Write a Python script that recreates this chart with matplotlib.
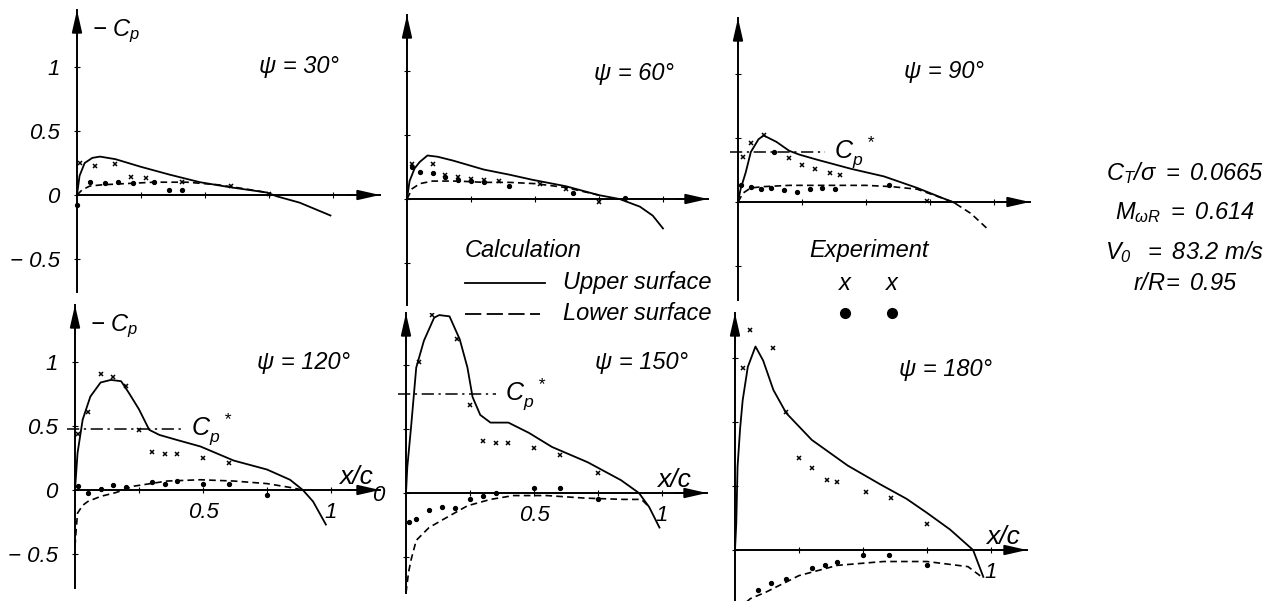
import matplotlib
matplotlib.use('Agg')
import matplotlib.pyplot as plt
from matplotlib.lines import Line2D

plt.rcParams['font.family'] = ['Liberation Sans', 'DejaVu Sans']
plt.rcParams['font.style'] = 'italic'
plt.rcParams['mathtext.fontset'] = 'custom'
plt.rcParams['mathtext.rm'] = 'Liberation Sans:italic'
plt.rcParams['mathtext.it'] = 'Liberation Sans:italic'
plt.rcParams['mathtext.sf'] = 'Liberation Sans:italic'

# --- data: -Cp vs x/c ---
psi_labels = ['ψ = 30°', 'ψ = 60°', 'ψ = 90°', 'ψ = 120°', 'ψ = 150°', 'ψ = 180°']

# psi = 30
up30_x = [0, 0.01, 0.03, 0.06, 0.09, 0.15, 0.25, 0.36, 0.48, 0.60, 0.74, 0.78, 0.87, 0.93, 0.99]
up30_cp = [0, 0.15, 0.25, 0.29, 0.30, 0.28, 0.22, 0.16, 0.10, 0.06, 0.02, -0.01, -0.06, -0.11, -0.16]
lo30_x = [0, 0.02, 0.05, 0.10, 0.20, 0.30, 0.43, 0.55, 0.65, 0.74]
lo30_cp = [0, 0.04, 0.07, 0.08, 0.09, 0.10, 0.10, 0.08, 0.05, 0.02]
exu30_x = [0.01, 0.07, 0.15, 0.21, 0.27, 0.41, 0.60, 0.75]
exu30_cp = [0.25, 0.23, 0.24, 0.14, 0.13, 0.10, 0.07, 0.01]
exl30_x = [0.0, 0.05, 0.11, 0.16, 0.22, 0.30, 0.36, 0.41]
exl30_cp = [-0.08, 0.10, 0.09, 0.10, 0.09, 0.10, 0.04, 0.04]

# psi = 60
up60_x = [0, 0.01, 0.03, 0.05, 0.08, 0.12, 0.18, 0.30, 0.40, 0.49, 0.62, 0.75, 0.83, 0.91, 0.96, 1.0]
up60_cp = [0, 0.14, 0.24, 0.29, 0.34, 0.33, 0.30, 0.23, 0.19, 0.15, 0.10, 0.03, 0.0, -0.06, -0.13, -0.23]
lo60_x = [0, 0.02, 0.05, 0.10, 0.20, 0.30, 0.40, 0.50, 0.62, 0.75]
lo60_cp = [0, 0.08, 0.12, 0.14, 0.14, 0.13, 0.13, 0.12, 0.09, 0.03]
exu60_x = [0.02, 0.10, 0.15, 0.20, 0.25, 0.30, 0.36, 0.52, 0.62, 0.75]
exu60_cp = [0.27, 0.27, 0.19, 0.17, 0.16, 0.15, 0.14, 0.12, 0.08, -0.02]
exl60_x = [0.02, 0.05, 0.10, 0.15, 0.20, 0.25, 0.30, 0.40, 0.65, 0.85]
exl60_cp = [0.25, 0.21, 0.20, 0.17, 0.15, 0.14, 0.13, 0.10, 0.05, 0.01]

# psi = 90
up90_x = [0, 0.01, 0.03, 0.05, 0.08, 0.10, 0.15, 0.20, 0.24, 0.31, 0.44, 0.57, 0.70, 0.85]
up90_cp = [0, 0.10, 0.23, 0.39, 0.49, 0.52, 0.47, 0.40, 0.37, 0.33, 0.26, 0.20, 0.11, -0.01]
lo90_x = [0, 0.02, 0.05, 0.10, 0.20, 0.30, 0.40, 0.50, 0.60, 0.70, 0.84, 0.91, 0.98]
lo90_cp = [0, 0.07, 0.11, 0.12, 0.13, 0.13, 0.13, 0.13, 0.12, 0.10, 0.0, -0.09, -0.22]
exu90_x = [0.02, 0.05, 0.10, 0.20, 0.25, 0.30, 0.36, 0.40, 0.74]
exu90_cp = [0.35, 0.46, 0.52, 0.34, 0.29, 0.26, 0.23, 0.21, 0.01]
exl90_x = [0.01, 0.05, 0.09, 0.13, 0.14, 0.18, 0.23, 0.28, 0.33, 0.38, 0.59]
exl90_cp = [0.13, 0.12, 0.10, 0.11, 0.39, 0.09, 0.08, 0.10, 0.11, 0.10, 0.13]

# psi = 120
up120_x = [0, 0.01, 0.03, 0.06, 0.10, 0.14, 0.18, 0.21, 0.25, 0.29, 0.33, 0.40, 0.49, 0.62, 0.75, 0.84, 0.89, 0.93, 0.98]
up120_cp = [0, 0.29, 0.55, 0.73, 0.84, 0.86, 0.85, 0.76, 0.63, 0.47, 0.43, 0.39, 0.34, 0.23, 0.16, 0.08, 0.0, -0.09, -0.27]
lo120_x = [0, 0.005, 0.01, 0.03, 0.05, 0.10, 0.16, 0.23, 0.36, 0.49, 0.62, 0.75, 0.84, 0.89]
lo120_cp = [-0.44, -0.30, -0.18, -0.12, -0.09, -0.05, -0.02, 0.03, 0.07, 0.08, 0.07, 0.05, 0.02, 0.0]
exu120_x = [0.01, 0.05, 0.10, 0.15, 0.20, 0.25, 0.30, 0.35, 0.40, 0.50, 0.60]
exu120_cp = [0.44, 0.61, 0.91, 0.88, 0.81, 0.47, 0.30, 0.28, 0.28, 0.25, 0.21]
exl120_x = [0.01, 0.05, 0.10, 0.15, 0.20, 0.30, 0.35, 0.40, 0.50, 0.60, 0.75]
exl120_cp = [0.03, -0.02, 0.01, 0.04, 0.02, 0.06, 0.05, 0.07, 0.05, 0.05, -0.04]

# psi = 150
up150_x = [0, 0.005, 0.02, 0.04, 0.07, 0.11, 0.13, 0.17, 0.21, 0.24, 0.26, 0.29, 0.33, 0.40, 0.48, 0.57, 0.71, 0.84, 0.91, 0.95, 0.99]
up150_cp = [0, 0.20, 0.52, 0.98, 1.19, 1.37, 1.39, 1.38, 1.20, 0.98, 0.75, 0.61, 0.55, 0.55, 0.47, 0.36, 0.24, 0.10, 0.0, -0.11, -0.27]
lo150_x = [0, 0.01, 0.02, 0.04, 0.09, 0.16, 0.24, 0.33, 0.42, 0.55, 0.70, 0.85, 0.92, 0.95]
lo150_cp = [-0.78, -0.62, -0.52, -0.37, -0.27, -0.19, -0.10, -0.05, -0.02, -0.02, -0.04, -0.05, -0.05, -0.11]
exu150_x = [0.05, 0.10, 0.20, 0.25, 0.30, 0.35, 0.40, 0.50, 0.60, 0.75]
exu150_cp = [1.02, 1.39, 1.20, 0.69, 0.41, 0.39, 0.39, 0.35, 0.30, 0.16]
exl150_x = [0.01, 0.04, 0.09, 0.14, 0.19, 0.25, 0.30, 0.35, 0.50, 0.60, 0.75]
exl150_cp = [-0.23, -0.20, -0.13, -0.11, -0.12, -0.05, -0.02, 0.0, 0.04, 0.04, -0.05]

# psi = 180
up180_x = [0, 0.005, 0.01, 0.02, 0.03, 0.05, 0.08, 0.11, 0.15, 0.20, 0.30, 0.44, 0.57, 0.67, 0.75, 0.84, 0.93, 0.97]
up180_cp = [0, 0.21, 0.65, 0.95, 1.17, 1.43, 1.59, 1.48, 1.25, 1.07, 0.86, 0.66, 0.51, 0.40, 0.29, 0.16, 0.0, -0.21]
lo180_x = [0.02, 0.06, 0.12, 0.16, 0.25, 0.40, 0.58, 0.75, 0.91, 0.97]
lo180_cp = [-0.45, -0.38, -0.33, -0.29, -0.20, -0.12, -0.09, -0.09, -0.13, -0.22]
exu180_x = [0.03, 0.06, 0.11, 0.15, 0.20, 0.25, 0.30, 0.36, 0.40, 0.51, 0.61, 0.75]
exu180_cp = [1.42, 1.72, 1.91, 1.58, 1.08, 0.72, 0.64, 0.55, 0.53, 0.45, 0.41, 0.20]
exl180_x = [0.09, 0.14, 0.20, 0.30, 0.35, 0.40, 0.50, 0.60, 0.75]
exl180_cp = [-0.31, -0.26, -0.23, -0.14, -0.12, -0.09, -0.04, -0.04, -0.12]

# critical pressure coefficient (only where drawn)
cp_star = {90: 0.39, 120: 0.48, 150: 0.77}

params = [r'$C_T/\sigma\ =\ 0.0665$', r'$M_{\omega R}\ =\ 0.614$',
          r'$V_0\ \ =\ 83.2\ m/s$', r'$r/R\!=\ 0.95$']

# --- layout (pixels of a 1273x601 canvas) ---
W, H = 1273, 601
SX, SY = 256.0, 128.0          # px per unit x/c, px per unit -Cp
# origin x, zero y, x-arrow tip, y-arrow tip, axis bottom
geom = [(77, 195, 380, 10, 292), (407, 199, 708, 15, 305), (738, 202, 1030, 18, 300),
        (75, 490, 380, 305, 588), (406, 493, 707, 313, 593), (735, 550, 1027, 313, 601)]

panels = [
    (up30_x, up30_cp, lo30_x, lo30_cp, exu30_x, exu30_cp, exl30_x, exl30_cp),
    (up60_x, up60_cp, lo60_x, lo60_cp, exu60_x, exu60_cp, exl60_x, exl60_cp),
    (up90_x, up90_cp, lo90_x, lo90_cp, exu90_x, exu90_cp, exl90_x, exl90_cp),
    (up120_x, up120_cp, lo120_x, lo120_cp, exu120_x, exu120_cp, exl120_x, exl120_cp),
    (up150_x, up150_cp, lo150_x, lo150_cp, exu150_x, exu150_cp, exl150_x, exl150_cp),
    (up180_x, up180_cp, lo180_x, lo180_cp, exu180_x, exu180_cp, exl180_x, exl180_cp),
]
psi_vals = [30, 60, 90, 120, 150, 180]
psi_pos = [(0.71, 1.0), (0.73, 0.98), (0.65, 1.02), (0.71, 1.0), (0.74, 1.02), (0.64, 1.41)]

fig = plt.figure(figsize=(W / 100, H / 100), dpi=100)
TXT = 15
arrow_kw = dict(arrowstyle='-|>,head_length=1.1,head_width=0.25', color='k',
                lw=1.4, mutation_scale=12, shrinkA=0, shrinkB=0)

for i, (ox, zy, xtip, ytop, ybot) in enumerate(geom):
    xmin = -0.08
    xmax = (xtip - ox) / SX
    left = ox + xmin * SX
    ax = fig.add_axes([left / W, 1 - ybot / H, (xtip - left) / W, (ybot - ytop) / H])
    ax.set_xlim(xmin, xmax)
    ax.set_ylim(-(ybot - zy) / SY, (zy - ytop) / SY)
    ax.patch.set_visible(False)
    for s in ['top', 'right']:
        ax.spines[s].set_visible(False)
    ax.spines['left'].set_position(('data', 0))
    ax.spines['bottom'].set_position(('data', 0))
    ax.spines['bottom'].set_bounds(0, xmax)
    for s in ['left', 'bottom']:
        ax.spines[s].set_linewidth(1.4)
    # arrow heads at the axis ends
    ax.annotate('', xy=(1, 0), xytext=(0.9, 0), xycoords=ax.get_yaxis_transform(),
                textcoords=ax.get_yaxis_transform(), arrowprops=arrow_kw, annotation_clip=False)
    ax.annotate('', xy=(0, 1), xytext=(0, 0.9), xycoords=ax.get_xaxis_transform(),
                textcoords=ax.get_xaxis_transform(), arrowprops=arrow_kw, annotation_clip=False)

    ax.tick_params(direction='inout', length=5, width=0.8, labelsize=TXT + 1, pad=10)
    yt = [v for v in [-0.5, 0, 0.5, 1.0, 1.5] if ax.get_ylim()[0] < v < ax.get_ylim()[1]]
    ax.set_yticks(yt)
    if i in (0, 3):
        ax.set_yticklabels({-0.5: '− 0.5', 0: '0', 0.5: '0.5', 1.0: '1', 1.5: ''}[v] for v in yt)
    elif i == 4:
        ax.set_yticklabels(['0' if v == 0 else '' for v in yt])
        ax.tick_params(axis='y', pad=13)
    else:
        ax.set_yticklabels([''] * len(yt))
    ax.set_xticks([0.25, 0.5, 0.75, 1.0])
    if i == 3 or i == 4:
        ax.set_xticklabels(['', '0.5', '', '1'])
    elif i == 5:
        ax.set_xticklabels(['', '', '', '1'])
    else:
        ax.set_xticklabels([''] * 4)
    ax.tick_params(axis='x', pad=6)

    ux, uc, lx, lc, eux, euc, elx, elc = panels[i]
    ax.plot(ux, uc, color='k', lw=1.3)
    ax.plot(lx, lc, color='k', lw=1.2, ls=(0, (4, 2.5)))
    ax.plot(eux, euc, ls='none', marker='x', ms=3.5, mew=1.1, color='k')
    ax.plot(elx, elc, ls='none', marker='o', ms=2.8, color='k')

    psi = psi_vals[i]
    if psi in cp_star:
        cs = cp_star[psi]
        xe = {90: 0.34, 120: 0.42, 150: 0.35}[psi]
        ax.plot([-0.03, xe], [cs, cs], color='k', lw=1.1, ls=(0, (8, 3, 1.5, 3)))
        ax.text(xe + 0.035, cs, r'$C_p^{\ \ *}$', fontsize=TXT + 3, va='center', ha='left')

    px, py = psi_pos[i]
    ax.text(px, py, psi_labels[i], fontsize=TXT + 2, va='center', ha='left')
    if i in (0, 3):
        ax.text(0.06, (zy - ytop) / SY - 0.17, r'$-\ C_p$', fontsize=TXT + 2, va='center', ha='left')
    if i >= 3:
        xc_x = {3: 1.03, 4: 0.98, 5: 0.98}[i]
        ax.text(xc_x, 0.1, 'x/c', fontsize=TXT + 4, va='center', ha='left')

# legend block
LEG = 17
fig.text(465 / W, 1 - 250 / H, 'Calculation', fontsize=LEG, va='center', ha='left')
fig.add_artist(Line2D([465 / W, 545 / W], [1 - 283 / H] * 2, color='k', lw=1.3))
fig.text(563 / W, 1 - 283 / H, 'Upper surface', fontsize=LEG, va='center', ha='left')
fig.add_artist(Line2D([465 / W, 540 / W], [1 - 314 / H] * 2, color='k', lw=1.3, ls=(0, (9, 3))))
fig.text(563 / W, 1 - 314 / H, 'Lower surface', fontsize=LEG, va='center', ha='left')
fig.text(869 / W, 1 - 250 / H, 'Experiment', fontsize=LEG, va='center', ha='center')
for xx in (845, 892):
    fig.text(xx / W, 1 - 283 / H, 'x', fontsize=LEG, va='center', ha='center')
    fig.add_artist(Line2D([xx / W], [1 - 313 / H], marker='o', ms=7, color='k', ls='none'))

# flight condition
for t, yy in zip(params, [173, 213, 252, 283]):
    fig.text(1185 / W, 1 - yy / H, t, fontsize=TXT + 2, va='center', ha='center')

fig.savefig('out.png', dpi=100)
